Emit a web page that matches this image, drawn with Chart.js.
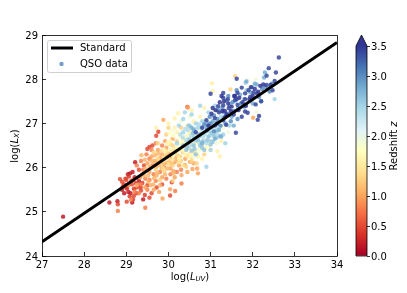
<!DOCTYPE html>
<html>
<head>
<meta charset="utf-8">
<script src="https://cdn.jsdelivr.net/npm/chart.js@4"></script>
<style>
  html, body { margin: 0; padding: 0; background: #fff; }
  #wrap { position: relative; width: 407px; height: 293px; overflow: hidden; }
  canvas { position: absolute; top: 0; }
</style>
</head>
<body>
<div id="wrap">
  <canvas id="scatterChart" width="345" height="293" style="left:0"></canvas>
  <canvas id="barChart" width="62" height="293" style="left:345px"></canvas>
</div>
<script>
// Data, one pair of lists per redshift band
const uvZ02 = [27.5, 29.09, 29.04, 29.15, 29.21, 29.0, 28.9, 29.1, 29.05, 28.95, 29.3, 29.4, 28.79, 29.14, 28.6, 29.2];
const xZ02 = [24.89, 25.87, 25.85, 25.9, 26.12, 25.55, 25.5, 25.42, 25.45, 25.42, 25.7, 25.28, 25.24, 25.21, 25.21, 25.78];
const uvZ04 = [28.95, 29.02, 29.08, 29.12, 29.18, 29.24, 29.28, 29.32, 28.98, 29.06, 29.22, 29.34, 29.44, 29.16, 29.38];
const xZ04 = [25.62, 25.52, 25.35, 25.7, 25.52, 25.42, 25.6, 25.78, 25.75, 25.8, 25.65, 25.55, 25.38, 25.28, 25.65];
const uvZ05 = [28.8, 28.85, 28.9, 29.01, 28.92, 29.18, 29.25, 29.13, 29.0, 29.35, 29.55, 29.5, 29.71, 29.76, 29.55, 29.5, 29.62, 30.08, 30.04, 29.72, 29.85, 30.45, 29.3, 29.42, 29.6];
const xZ05 = [25.17, 25.74, 25.68, 25.23, 25.58, 25.36, 25.55, 25.62, 25.72, 25.48, 25.32, 25.6, 26.72, 26.81, 26.47, 26.42, 26.5, 25.67, 25.37, 25.55, 25.62, 27.37, 25.95, 26.05, 25.42];
const uvZ08 = [28.8, 29.11, 29.45, 29.2, 29.35, 29.45, 29.3, 29.5, 29.15, 29.05, 29.4, 29.55, 29.35, 29.25, 29.55, 29.65, 29.8, 29.7, 29.95, 30.16, 30.31, 30.05, 29.6, 29.7, 29.48, 29.38, 29.62, 29.75, 29.9, 30.2, 30.3, 29.85];
const xZ08 = [25.02, 25.27, 25.09, 25.45, 25.62, 25.75, 25.42, 25.5, 25.72, 25.6, 25.95, 26.2, 26.15, 26.05, 25.72, 25.85, 25.9, 25.7, 25.75, 25.47, 25.64, 25.85, 26.4, 26.55, 26.3, 25.85, 26.05, 26.18, 26.0, 25.9, 25.95, 26.5];
const uvZ10 = [29.86, 30.04, 30.31, 30.39, 30.51, 30.57, 30.68, 30.7, 29.88, 30.46, 32.01, 29.45, 29.55, 29.7, 29.85, 29.95, 30.05, 30.15, 30.25, 30.45, 29.65, 29.78, 29.5, 29.6, 29.75, 29.85, 29.95, 30.05, 30.15, 29.92, 30.1, 30.4, 30.6, 29.58, 29.68, 29.8, 29.9, 30.0, 30.12, 30.22];
const xZ10 = [25.3, 25.51, 25.83, 26.06, 26.13, 25.97, 25.98, 25.87, 27.08, 27.36, 27.13, 25.55, 25.9, 26.0, 25.78, 26.1, 25.98, 25.78, 26.05, 25.9, 25.5, 25.45, 26.1, 26.25, 26.4, 26.3, 26.45, 26.25, 26.12, 26.6, 26.65, 26.2, 26.1, 26.02, 26.15, 26.22, 26.12, 26.32, 25.92, 26.18];
const uvZ11 = [29.25, 29.32, 29.42, 29.52, 29.58, 29.66, 29.72, 29.78, 29.84, 29.92, 29.98, 30.02, 29.46, 29.56, 29.64, 29.74, 29.82, 29.88, 29.96, 30.06, 30.12, 30.18, 29.36, 29.44, 29.52, 29.6, 29.68, 29.76, 29.68, 29.8];
const xZ11 = [25.6, 25.78, 25.82, 25.68, 25.6, 25.76, 25.82, 26.05, 25.98, 25.85, 25.98, 26.12, 25.98, 26.02, 25.62, 25.88, 26.18, 26.08, 26.28, 26.08, 25.88, 26.22, 26.28, 26.18, 25.82, 26.15, 26.12, 26.32, 26.28, 25.6];
const uvZ13 = [29.7, 29.8, 29.9, 30.0, 30.1, 30.2, 30.3, 30.42, 30.55, 30.67, 29.9, 29.75, 29.95, 30.1, 30.2, 30.35, 29.8, 31.58, 31.47, 30.5, 30.3, 30.0, 29.65, 30.5, 30.1, 30.85, 29.85, 29.98, 30.08, 30.18, 30.28];
const xZ13 = [25.95, 26.1, 25.92, 26.2, 26.05, 26.3, 26.15, 26.02, 26.15, 26.1, 26.25, 26.55, 26.75, 26.5, 26.6, 26.35, 25.72, 28.07, 27.77, 26.3, 26.9, 26.9, 26.35, 26.55, 25.7, 26.3, 26.38, 26.55, 26.38, 26.45, 26.25];
const uvZ14 = [29.9, 30.0, 30.1, 30.15, 30.25, 30.35, 30.45, 30.55, 30.62, 29.75, 29.88, 29.96, 30.04, 30.26, 30.34, 30.46];
const xZ14 = [26.15, 26.08, 26.18, 26.38, 26.12, 26.05, 26.25, 26.22, 26.35, 26.2, 25.98, 26.35, 26.52, 26.4, 26.52, 26.42];
const uvZ16 = [29.71, 30.23, 30.15, 29.9, 30.05, 30.25, 30.4, 30.55, 30.7, 30.8, 31.0, 31.22, 31.16, 31.03, 31.05, 30.05, 30.2, 30.35, 30.5, 30.65, 30.8, 30.95, 30.3, 30.15, 30.0, 30.45, 30.6, 30.75, 30.55, 30.85, 31.1, 31.3, 31.1, 31.25, 30.4];
const xZ16 = [26.9, 27.23, 27.11, 26.4, 26.4, 26.2, 26.5, 26.4, 26.25, 26.2, 26.4, 26.25, 26.37, 27.91, 27.73, 26.6, 26.8, 26.65, 26.8, 26.55, 26.5, 26.6, 26.4, 26.9, 27.0, 26.95, 27.05, 27.15, 27.3, 27.35, 27.3, 27.45, 26.75, 26.6, 26.3];
const uvZ17 = [30.1, 30.22, 30.3, 30.38, 30.45, 30.52, 30.6, 30.68, 30.75, 30.82, 30.2, 30.28, 30.36, 30.44, 30.52, 30.6, 30.68, 30.12, 29.98, 30.02, 30.9, 30.98];
const xZ17 = [26.28, 26.38, 26.55, 26.38, 26.72, 26.62, 26.42, 26.32, 26.42, 26.78, 26.45, 26.7, 26.58, 26.62, 26.28, 26.55, 26.7, 26.72, 26.55, 26.78, 26.45, 26.5];
const uvZ19 = [32.09, 30.1, 30.25, 30.4, 30.55, 30.7, 30.85, 31.0, 31.15, 31.42, 30.6, 30.3, 30.5, 31.9, 31.3, 30.9, 30.75, 32.07, 31.88];
const xZ19 = [27.26, 26.85, 26.5, 26.7, 26.6, 26.4, 26.65, 26.75, 26.55, 26.8, 26.25, 27.05, 27.15, 27.8, 26.9, 27.1, 26.85, 28.0, 27.98];
const uvZ24 = [30.42, 30.5, 30.58, 30.66, 30.74, 30.82, 30.9, 30.98, 31.06, 31.14, 31.22, 30.46, 30.54, 30.62, 30.7, 30.78, 30.86, 30.94, 31.02, 31.1, 30.34, 30.28, 30.4, 30.48, 30.56, 30.64, 30.72, 30.8, 30.88, 30.96];
const xZ24 = [26.62, 26.48, 26.78, 26.62, 26.58, 26.7, 26.55, 26.72, 26.85, 26.78, 26.92, 26.85, 26.72, 26.88, 26.75, 26.92, 26.75, 26.95, 26.92, 27.02, 26.68, 26.75, 26.88, 26.65, 26.52, 26.6, 26.98, 26.82, 26.98, 26.82];
const uvZ25 = [30.39, 30.9, 30.2, 30.35, 30.45, 30.6, 30.7, 30.85, 31.0, 31.15, 31.3, 31.45, 30.5, 30.65, 30.8, 30.95, 31.1, 30.35, 30.25, 30.55, 31.25, 31.6, 32.52, 31.85, 30.75, 31.2, 31.0, 31.35, 31.15, 31.83];
const xZ25 = [27.25, 26.02, 26.55, 26.8, 26.55, 26.7, 26.9, 26.8, 26.6, 26.85, 26.75, 26.95, 26.95, 27.0, 27.05, 27.25, 27.4, 27.1, 26.95, 27.2, 27.15, 27.5, 27.55, 27.75, 27.4, 27.05, 26.4, 26.55, 26.95, 27.92];
const uvZ26 = [30.35, 30.45, 30.55, 30.65, 30.75, 30.85, 30.95, 31.05, 31.15, 30.5, 30.6, 30.7, 30.8, 30.9, 31.0, 31.08, 30.42, 30.62, 30.82, 31.22, 30.72, 30.58, 30.48, 30.92, 31.02, 31.12];
const xZ26 = [26.5, 26.45, 26.38, 26.3, 26.5, 26.4, 26.7, 26.58, 26.68, 26.62, 26.5, 26.62, 26.45, 26.82, 26.52, 26.72, 26.4, 26.42, 26.6, 26.72, 26.7, 26.78, 26.95, 26.62, 26.78, 26.82];
const uvZ28 = [30.6, 30.75, 30.9, 31.05, 31.2, 31.35, 31.5, 31.65, 31.8, 31.95, 32.27, 32.2, 32.29, 32.05, 30.8, 30.95, 31.1, 31.3, 31.45, 31.55, 31.7, 30.55, 31.85, 31.25, 32.0, 32.09, 31.99];
const xZ28 = [26.85, 26.75, 26.9, 27.05, 26.85, 27.0, 27.15, 27.35, 27.55, 27.7, 28.04, 27.5, 28.15, 27.9, 26.55, 27.0, 26.65, 27.25, 27.4, 26.95, 27.65, 26.9, 27.95, 26.7, 27.45, 27.88, 27.82];
const uvZ30 = [30.85, 30.92, 31.0, 31.08, 31.16, 31.24, 31.32, 31.4, 31.48, 31.56, 31.64, 31.72, 31.8, 31.08, 31.18, 31.28, 31.38, 30.98, 31.42, 31.52, 31.62, 32.3, 32.4, 32.45, 32.15, 32.22];
const xZ30 = [26.98, 26.85, 27.0, 26.82, 27.1, 26.95, 27.12, 27.22, 27.05, 27.28, 27.1, 27.45, 27.38, 27.18, 27.3, 27.35, 27.52, 27.15, 27.62, 27.48, 27.75, 27.82, 27.72, 27.9, 27.6, 27.78];
const uvZ34 = [31.0, 31.62, 31.6, 32.12, 32.15, 32.38, 32.55, 32.33, 32.33, 32.42, 32.52, 32.47, 31.3, 31.3, 31.41, 31.74, 31.64, 31.82, 31.9, 32.02, 32.1, 31.62, 31.82, 31.58, 31.94, 32.2, 32.07, 31.18, 31.3, 31.43, 31.64, 31.82, 31.88, 31.74, 31.55, 31.2, 31.1, 30.9, 31.3, 31.37, 30.8, 30.65, 31.1, 32.62];
const xZ34 = [27.67, 28.01, 26.79, 27.08, 27.17, 28.25, 28.15, 28.08, 27.87, 27.87, 27.96, 27.75, 27.69, 27.58, 27.55, 27.81, 27.69, 27.68, 27.75, 27.7, 27.68, 27.55, 27.55, 27.53, 27.6, 27.5, 27.43, 27.39, 27.41, 27.35, 27.42, 27.27, 27.24, 27.15, 27.2, 27.25, 27.12, 27.07, 27.07, 26.97, 26.9, 26.8, 26.95, 28.49];
const uvZ35 = [31.02, 31.12, 31.22, 31.32, 31.42, 31.5, 31.58, 31.68, 31.76, 31.84, 31.92, 32.0, 31.28, 31.38, 31.48, 31.56, 31.66, 31.96, 32.05, 32.25, 30.95, 31.15, 31.35, 31.05, 31.26, 31.34, 32.13, 32.18];
const xZ35 = [27.22, 27.3, 27.48, 27.5, 27.45, 27.38, 27.62, 27.58, 27.48, 27.4, 27.55, 27.62, 27.28, 27.2, 27.28, 27.62, 27.3, 27.82, 27.78, 27.88, 26.95, 27.0, 27.15, 27.35, 27.62, 27.28, 27.72, 27.85];

const bandRedshifts = [0.2, 0.4, 0.5, 0.8, 1.0, 1.1, 1.3, 1.4, 1.6, 1.7, 1.9, 2.4, 2.5, 2.6, 2.8, 3.0, 3.4, 3.5];
const bandUv = [uvZ02, uvZ04, uvZ05, uvZ08, uvZ10, uvZ11, uvZ13, uvZ14, uvZ16, uvZ17, uvZ19, uvZ24, uvZ25, uvZ26, uvZ28, uvZ30, uvZ34, uvZ35];
const bandX = [xZ02, xZ04, xZ05, xZ08, xZ10, xZ11, xZ13, xZ14, xZ16, xZ17, xZ19, xZ24, xZ25, xZ26, xZ28, xZ30, xZ34, xZ35];

const lineUv = [27, 34];
const lineX = [24.32, 28.83];
const seriesNames = ["Standard", "QSO data"];
const xTicks = [27, 28, 29, 30, 31, 32, 33, 34];
const yTicks = [24, 25, 26, 27, 28, 29];
const barTicks = [0, 0.5, 1, 1.5, 2, 2.5, 3, 3.5];
const zMax = 3.5;

// RdYlBu
const colormap = ["#a50026", "#d73027", "#f46d43", "#fdae61", "#fee090", "#ffffbf", "#e0f3f8", "#abd9e9", "#74add1", "#4575b4", "#313695"];
const fontName = "'DejaVu Sans'";

function hexToRgb(hex) {
  return [1, 3, 5].map(i => parseInt(hex.substr(i, 2), 16));
}

function zColor(z, alpha) {
  const t = Math.min(z / zMax, 1) * (colormap.length - 1);
  const i = Math.min(Math.floor(t), colormap.length - 2);
  const a = hexToRgb(colormap[i]);
  const b = hexToRgb(colormap[i + 1]);
  const c = a.map((v, k) => Math.round(v + (b[k] - v) * (t - i)));
  return `rgba(${c[0]},${c[1]},${c[2]},${alpha})`;
}

const qsoPoints = [];
const qsoColors = [];
bandRedshifts.forEach((z, b) => {
  bandUv[b].forEach((uv, i) => {
    qsoPoints.push({ x: uv, y: bandX[b][i] });
    qsoColors.push(zColor(z, 0.85));
  });
});
const linePoints = lineUv.map((uv, i) => ({ x: uv, y: lineX[i] }));

// Text with an italic part and a subscript: [text, italic, sub]
function drawMath(ctx, parts, cx, cy, rotate) {
  const fontOf = p => `${p[1] ? "italic " : ""}${p[2] ? 7 : 10}px ${fontName}`;
  let w = 0;
  parts.forEach(p => { ctx.font = fontOf(p); w += ctx.measureText(p[0]).width; });
  ctx.save();
  ctx.translate(cx, cy);
  if (rotate) ctx.rotate(-Math.PI / 2);
  ctx.fillStyle = "#000";
  ctx.textAlign = "left";
  ctx.textBaseline = "middle";
  let pos = -w / 2;
  parts.forEach(p => {
    ctx.font = fontOf(p);
    ctx.fillText(p[0], pos, p[2] ? 2 : 0);
    pos += ctx.measureText(p[0]).width;
  });
  ctx.restore();
}

Chart.defaults.font.family = fontName;
Chart.defaults.font.size = 10;
Chart.defaults.color = "#000";

// No extra room for the outer tick labels, the plot box has a fixed place
function fixHeight(h) {
  return s => { s.height = h; s.paddingLeft = 0; s.paddingRight = 0; };
}
function fixWidth(w) {
  return s => { s.width = w; s.paddingTop = 0; s.paddingBottom = 0; };
}

// Frame, legend box and axis labels
const scatterExtras = {
  id: "scatterExtras",
  afterDraw(chart) {
    const { ctx, chartArea: a } = chart;
    ctx.save();
    ctx.strokeStyle = "#000";
    ctx.lineWidth = 0.8;
    ctx.strokeRect(a.left + 0.5, a.top + 0.5, a.right - a.left, a.bottom - a.top);

    ctx.fillStyle = "rgba(255,255,255,0.8)";
    ctx.strokeStyle = "#d0d0d0";
    ctx.lineWidth = 1;
    ctx.beginPath();
    ctx.roundRect(47.5, 40.5, 84, 32, 2);
    ctx.fill();
    ctx.stroke();

    ctx.strokeStyle = "#000";
    ctx.lineWidth = 3;
    ctx.beginPath();
    ctx.moveTo(51, 48);
    ctx.lineTo(73, 48);
    ctx.stroke();
    ctx.fillStyle = zColor(3, 0.85);
    ctx.beginPath();
    ctx.arc(61.5, 64, 2.2, 0, Math.PI * 2);
    ctx.fill();

    ctx.fillStyle = "#000";
    ctx.font = `10px ${fontName}`;
    ctx.textAlign = "left";
    ctx.textBaseline = "middle";
    ctx.fillText(seriesNames[0], 80, 48);
    ctx.fillText(seriesNames[1], 80, 64);
    ctx.restore();

    drawMath(ctx, [["log("], ["L", true], ["UV", true, true], [")"]], 190, 277);
    drawMath(ctx, [["log("], ["L", true], ["X", true, true], [")"]], 15, 146, true);
  }
};

// Scatter with the line on top
new Chart(document.getElementById("scatterChart"), {
  type: "scatter",
  data: {
    datasets: [
      {
        label: seriesNames[0],
        data: linePoints,
        showLine: true,
        borderColor: "#000",
        borderWidth: 3,
        pointRadius: 0,
        order: 0
      },
      {
        label: seriesNames[1],
        data: qsoPoints,
        pointRadius: 2.2,
        pointBorderWidth: 0,
        pointBackgroundColor: qsoColors,
        order: 1
      }
    ]
  },
  options: {
    responsive: false,
    animation: false,
    layout: { padding: { top: 35, right: 8, left: 0, bottom: 0 } },
    plugins: { legend: { display: false }, tooltip: { enabled: false } },
    scales: {
      x: {
        type: "linear",
        min: 27,
        max: 34,
        afterFit: fixHeight(37),
        afterBuildTicks: s => { s.ticks = xTicks.map(v => ({ value: v })); },
        grid: { drawOnChartArea: false, tickLength: -4, tickColor: "#000", tickWidth: 0.8 },
        border: { display: false },
        ticks: { padding: 7, maxRotation: 0, autoSkip: false }
      },
      y: {
        type: "linear",
        min: 24,
        max: 29,
        afterFit: fixWidth(42),
        afterBuildTicks: s => { s.ticks = yTicks.map(v => ({ value: v })); },
        grid: { drawOnChartArea: false, tickLength: -4, tickColor: "#000", tickWidth: 0.8 },
        border: { display: false },
        ticks: { padding: 8, labelOffset: 1, autoSkip: false }
      }
    }
  },
  plugins: [scatterExtras]
});

// Colour bar: one floating bar with the colormap as gradient
function barGradient(context) {
  const { ctx, chartArea } = context.chart;
  if (!chartArea) return colormap[0];
  const g = ctx.createLinearGradient(0, chartArea.bottom, 0, chartArea.top);
  colormap.forEach((c, i) => g.addColorStop(i / (colormap.length - 1), c));
  return g;
}

const barExtras = {
  id: "barExtras",
  afterDatasetsDraw(chart) {
    const { ctx, chartArea: a } = chart;
    ctx.save();
    ctx.fillStyle = colormap[colormap.length - 1];
    ctx.beginPath();
    ctx.moveTo(a.left, a.top);
    ctx.lineTo((a.left + a.right) / 2, a.top - 11);
    ctx.lineTo(a.right, a.top);
    ctx.closePath();
    ctx.fill();
    ctx.strokeStyle = "#000";
    ctx.lineWidth = 0.8;
    ctx.beginPath();
    ctx.moveTo(a.left, a.bottom);
    ctx.lineTo(a.left, a.top);
    ctx.lineTo((a.left + a.right) / 2, a.top - 11);
    ctx.lineTo(a.right, a.top);
    ctx.lineTo(a.right, a.bottom);
    ctx.closePath();
    ctx.stroke();
    ctx.restore();
    drawMath(ctx, [["Redshift "], ["z", true]], 394.5 - 345, 146, true);
  }
};

new Chart(document.getElementById("barChart"), {
  type: "bar",
  data: {
    labels: ["z"],
    datasets: [{
      data: [[0, zMax]],
      yAxisID: "z",
      backgroundColor: barGradient,
      barPercentage: 1,
      categoryPercentage: 1
    }]
  },
  options: {
    responsive: false,
    animation: false,
    layout: { padding: { top: 46, left: 11, right: 0, bottom: 37 } },
    plugins: { legend: { display: false }, tooltip: { enabled: false } },
    scales: {
      x: {
        display: false
      },
      z: {
        type: "linear",
        position: "right",
        min: 0,
        max: zMax,
        afterFit: fixWidth(40),
        afterBuildTicks: s => { s.ticks = barTicks.map(v => ({ value: v })); },
        grid: { drawOnChartArea: false, tickLength: 3, tickColor: "#000", tickWidth: 0.8 },
        border: { display: false },
        ticks: { padding: 1, labelOffset: 1, autoSkip: false, callback: v => v.toFixed(1) }
      }
    }
  },
  plugins: [barExtras]
});
</script>
</body>
</html>
